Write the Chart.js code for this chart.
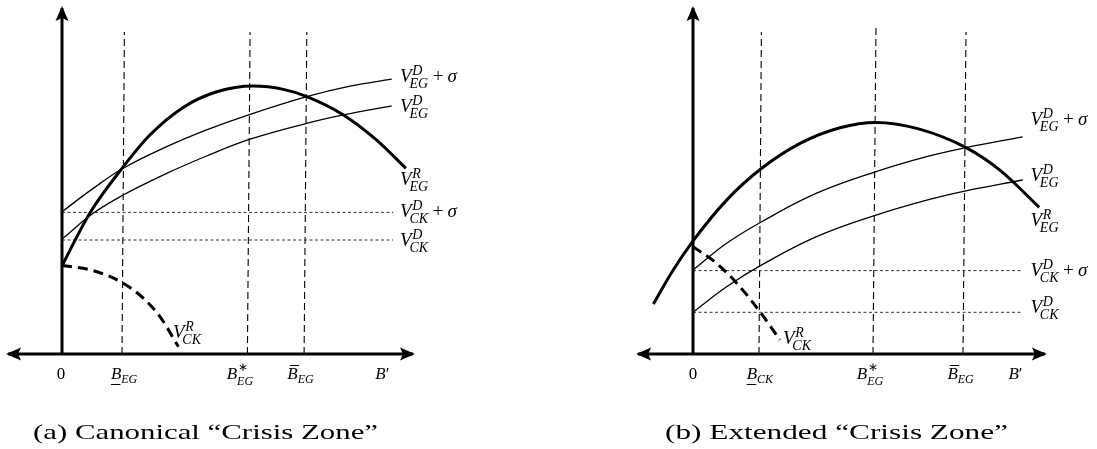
<!DOCTYPE html>
<html>
<head>
<meta charset="utf-8">
<title>Crisis Zone</title>
<script src="https://cdn.jsdelivr.net/npm/chart.js@4.4.1/dist/chart.umd.min.js"></script>
<style>
  html, body { margin: 0; padding: 0; background: #fff; }
  body { position: relative; width: 1097px; height: 449px; overflow: hidden; }
  canvas { position: absolute; top: 0; }
  .caption { position: absolute; top: 422px; font-family: "Liberation Serif", "Times New Roman", serif; font-size: 21px; line-height: 21px; white-space: nowrap; transform-origin: 0 0; color: #000; }
</style>
</head>
<body>
<canvas id="chartA" width="548" height="449" style="left:0"></canvas>
<canvas id="chartB" width="549" height="449" style="left:548px"></canvas>
<div class="caption" id="capA">(a) Canonical “Crisis Zone”</div>
<div class="caption" id="capB">(b) Extended “Crisis Zone”</div>
<script>
//Panel (a): canonical crisis zone, values as [B', V]
var aEgR = [[0, 2.94], [0.93, 4.7], [2.04, 6.24], [2.93, 7.3], [4.04, 8.22], [5.16, 8.74], [6.38, 8.93], [7.38, 8.82], [8.16, 8.58], [9.38, 7.97], [10.49, 7.13], [11.46, 6.19]];
var aEgDSigma = [[0, 4.74], [1.04, 5.52], [2.04, 6.19], [3.49, 6.91], [4.82, 7.47], [6.27, 7.99], [8.16, 8.58], [9.6, 8.93], [10.99, 9.16]];
var aEgD = [[0, 3.83], [1.04, 4.69], [2.04, 5.3], [3.49, 6.02], [4.82, 6.6], [6.27, 7.16], [8.16, 7.69], [9.38, 7.97], [10.99, 8.27]];
var aCkR = [[0, 2.95], [1.04, 2.78], [2.04, 2.36], [2.71, 1.86], [3.27, 1.24], [3.88, 0.24]];
var aCkLevels = [4.72, 3.8];          // V_CK^D + sigma, V_CK^D
var aLevelEnd = 11.04;
var aBounds = [[2.0, 2.08], [6.18, 6.27], [8.07, 8.16]];   // B at axis, B at top of the dashed line
var aBoundTop = [10.73, 10.73, 10.73];
var aAxisX = [-1.8, 11.7];
var aAxisTop = 11.53;

//Panel (b): extended crisis zone
var bEgR = [[-1.32, 1.67], [-0.66, 2.8], [0.01, 3.78], [1.12, 5.13], [2.29, 6.19], [3.57, 7.02], [4.9, 7.54], [6.1, 7.72], [7.46, 7.52], [9.1, 6.88], [10.23, 6.13], [11.54, 4.89]];
var bEgDSigma = [[0, 2.8], [1.12, 3.69], [2.29, 4.41], [4.12, 5.36], [6.1, 6.08], [7.79, 6.58], [9.1, 6.88], [10.99, 7.24]];
var bEgD = [[0, 1.39], [1.12, 2.24], [2.29, 2.97], [4.12, 3.91], [6.1, 4.63], [7.79, 5.13], [9.1, 5.44], [10.99, 5.8]];
var bCkR = [[0, 3.58], [0.79, 3.02], [1.46, 2.36], [2.23, 1.41], [2.9, 0.47]];
var bCkLevels = [2.78, 1.39];
var bLevelEnd = 10.99;
var bBounds = [[2.2, 2.28], [6.0, 6.1], [9.0, 9.1]];
var bBoundTop = [10.73, 10.97, 10.73];
var bAxisX = [-1.83, 11.73];
var bAxisTop = 11.53;

//Text on the curves and on the B' axis
var curveLabels = [
    { base: 'V', sup: 'D', sub: 'EG', plusSigma: true },
    { base: 'V', sup: 'D', sub: 'EG' },
    { base: 'V', sup: 'R', sub: 'EG' },
    { base: 'V', sup: 'D', sub: 'CK', plusSigma: true },
    { base: 'V', sup: 'D', sub: 'CK' },
    { base: 'V', sup: 'R', sub: 'CK' }
];
var aCurveLabelAt = [[11.27, 9.07], [11.27, 8.07], [11.27, 5.63], [11.27, 4.57], [11.27, 3.6], [3.7, 0.53]];
var bCurveLabelAt = [[11.25, 7.63], [11.25, 5.77], [11.25, 4.27], [11.25, 2.6], [11.25, 1.37], [3.0, 0.33]];

var aTickLabels = [
    { base: '0', roman: true },
    { base: 'B', under: true, sub: 'EG' },
    { base: 'B', sup: '∗', sub: 'EG' },
    { base: 'B', over: true, sub: 'EG' },
    { base: 'B', prime: true }
];
var bTickLabels = [
    { base: '0', roman: true },
    { base: 'B', under: true, sub: 'CK' },
    { base: 'B', sup: '∗', sub: 'EG' },
    { base: 'B', over: true, sub: 'EG' },
    { base: 'B', prime: true }
];
var aTickPos = [-0.03, 2.07, 5.93, 7.95, 10.68];
var bTickPos = [0, 2.23, 5.9, 8.92, 10.75];
var tickBaseline = -0.83;

var SERIF = '"Liberation Serif", "Times New Roman", serif';

//Line styles
var AXIS = { borderWidth: 3 };
var THICK = { borderWidth: 3, cubicInterpolationMode: 'monotone' };
var THIN = { borderWidth: 1.3, tension: 0.4 };
var THICK_DASH = { borderWidth: 3, borderDash: [10, 6], cubicInterpolationMode: 'monotone' };
var VDASH = { borderWidth: 1.1, borderDash: [7, 4] };
var HDASH = { borderWidth: 1, borderDash: [3, 2.5], borderColor: '#333' };

function line(points, style, extra) {
    return Object.assign({
        data: points.map(function (p) { return { x: p[0], y: p[1] }; }),
        showLine: true,
        pointRadius: 0,
        borderColor: '#000',
        borderCapStyle: 'butt',
        fill: false
    }, style, extra || {});
}

//Build the datasets of one panel (first one is drawn on top)
function panelDatasets(p) {
    var sets = [];
    sets.push(line([[0, 0], [0, p.axisTop]], AXIS, { arrows: ['end'] }));
    sets.push(line([[p.axisX[0], 0], [p.axisX[1], 0]], AXIS, { arrows: ['start', 'end'] }));
    sets.push(line(p.egR, THICK));
    sets.push(line(p.ckR, THICK_DASH));
    sets.push(line(p.egDSigma, THIN));
    sets.push(line(p.egD, THIN));
    p.levels.forEach(function (v) {
        sets.push(line([[0, v], [p.levelEnd, v]], HDASH));
    });
    p.bounds.forEach(function (b, i) {
        sets.push(line([[b[0], 0], [b[1], p.boundTop[i]]], VDASH));
    });
    return sets;
}

function drawHead(ctx, from, to) {
    var a = Math.atan2(to.y - from.y, to.x - from.x);
    ctx.save();
    ctx.translate(to.x, to.y);
    ctx.rotate(a);
    ctx.beginPath();
    ctx.moveTo(2, 0);
    ctx.lineTo(-13, -6.5);
    ctx.lineTo(-10, 0);
    ctx.lineTo(-13, 6.5);
    ctx.closePath();
    ctx.fillStyle = '#000';
    ctx.fill();
    ctx.restore();
}

var arrowHeads = {
    id: 'arrowHeads',
    afterDatasetsDraw: function (chart) {
        chart.data.datasets.forEach(function (ds, i) {
            if (!ds.arrows) return;
            var pts = chart.getDatasetMeta(i).data;
            if (ds.arrows.indexOf('end') >= 0) drawHead(chart.ctx, pts[pts.length - 2], pts[pts.length - 1]);
            if (ds.arrows.indexOf('start') >= 0) drawHead(chart.ctx, pts[1], pts[0]);
        });
    }
};

//Lay out a small piece of math: base letter with scripts and decorations
function mathLayout(ctx, m, F) {
    var S = Math.round(F * 0.72);
    var it = 'italic ' + F + 'px ' + SERIF, rm = F + 'px ' + SERIF;
    var sIt = 'italic ' + S + 'px ' + SERIF, sRm = S + 'px ' + SERIF;
    var parts = [], rules = [];
    var baseFont = m.roman ? rm : it;
    ctx.font = baseFont;
    var wb = ctx.measureText(m.base).width;
    parts.push({ text: m.base, font: baseFont, x: 0, dy: 0 });
    var end = wb;
    if (m.prime) {
        ctx.font = rm;
        parts.push({ text: '′', font: rm, x: wb, dy: 0 });
        end = wb + ctx.measureText('′').width;
    }
    var italicV = m.base === 'V';
    if (m.sup) {
        var supFont = m.sup === '∗' ? sRm : sIt;
        ctx.font = supFont;
        var sx = wb + 0.03 * F;
        parts.push({ text: m.sup, font: supFont, x: sx, dy: (m.sup === '∗' ? -0.45 : -0.36) * F });
        end = Math.max(end, sx + ctx.measureText(m.sup).width);
    }
    if (m.sub) {
        ctx.font = sIt;
        var bx = italicV ? wb - 0.12 * F : wb;
        parts.push({ text: m.sub, font: sIt, x: bx, dy: (m.sup ? 0.33 : 0.22) * F });
        end = Math.max(end, bx + ctx.measureText(m.sub).width);
    }
    if (m.under) rules.push({ x0: 0, x1: wb - 0.05 * F, dy: 0.3 * F });
    if (m.over) rules.push({ x0: 0.15 * F, x1: wb + 0.08 * F, dy: -0.82 * F });
    if (m.plusSigma) {
        ctx.font = rm;
        var px = end + 0.24 * F;
        parts.push({ text: '+', font: rm, x: px, dy: 0 });
        px += ctx.measureText('+').width + 0.22 * F;
        parts.push({ text: 'σ', font: it, x: px, dy: 0 });
        ctx.font = it;
        end = px + ctx.measureText('σ').width;
    }
    return { parts: parts, rules: rules, width: end };
}

function drawMath(ctx, m, x, y, F, align) {
    var lay = mathLayout(ctx, m, F);
    var x0 = align === 'center' ? x - lay.width / 2 : x;
    ctx.save();
    ctx.fillStyle = '#000';
    ctx.strokeStyle = '#000';
    ctx.textAlign = 'left';
    ctx.textBaseline = 'alphabetic';
    lay.parts.forEach(function (p) {
        ctx.font = p.font;
        ctx.fillText(p.text, x0 + p.x, y + p.dy);
    });
    ctx.lineWidth = 1;
    lay.rules.forEach(function (r) {
        ctx.beginPath();
        ctx.moveTo(x0 + r.x0, Math.round(y + r.dy) + 0.5);
        ctx.lineTo(x0 + r.x1, Math.round(y + r.dy) + 0.5);
        ctx.stroke();
    });
    ctx.restore();
}

function mathLabels(labelAt, tickLabels, tickPos) {
    return {
        id: 'mathLabels',
        afterDraw: function (chart) {
            var xs = chart.scales.x, ys = chart.scales.y;
            curveLabels.forEach(function (m, i) {
                drawMath(chart.ctx, m, xs.getPixelForValue(labelAt[i][0]), ys.getPixelForValue(labelAt[i][1]), 19, 'left');
            });
            tickLabels.forEach(function (m, i) {
                drawMath(chart.ctx, m, xs.getPixelForValue(tickPos[i]), ys.getPixelForValue(tickBaseline), 17, 'center');
            });
        }
    };
}

//origin = pixel where the two axes cross, unit = pixels per data unit
function makePanel(canvasId, p) {
    var canvas = document.getElementById(canvasId);
    var w = canvas.width, h = canvas.height;
    return new Chart(canvas.getContext('2d'), {
        type: 'scatter',
        data: { datasets: panelDatasets(p) },
        options: {
            responsive: false,
            animation: false,
            events: [],
            layout: { padding: 0, autoPadding: false },
            scales: {
                x: { type: 'linear', display: false, min: -p.originX / p.unit, max: (w - p.originX) / p.unit },
                y: { type: 'linear', display: false, min: -(h - p.originY) / p.unit, max: p.originY / p.unit }
            },
            plugins: { legend: { display: false }, tooltip: { enabled: false } }
        },
        plugins: [arrowHeads, mathLabels(p.labelAt, p.tickLabels, p.tickPos)]
    });
}

makePanel('chartA', {
    originX: 62, originY: 354, unit: 30,
    egR: aEgR, egDSigma: aEgDSigma, egD: aEgD, ckR: aCkR,
    levels: aCkLevels, levelEnd: aLevelEnd, bounds: aBounds, boundTop: aBoundTop,
    axisX: aAxisX, axisTop: aAxisTop,
    labelAt: aCurveLabelAt, tickLabels: aTickLabels, tickPos: aTickPos
});

makePanel('chartB', {
    originX: 145, originY: 354, unit: 30,
    egR: bEgR, egDSigma: bEgDSigma, egD: bEgD, ckR: bCkR,
    levels: bCkLevels, levelEnd: bLevelEnd, bounds: bBounds, boundTop: bBoundTop,
    axisX: bAxisX, axisTop: bAxisTop,
    labelAt: bCurveLabelAt, tickLabels: bTickLabels, tickPos: bTickPos
});

//Stretch the captions to the width they have in the figure
function fitCaption(id, left, right) {
    var el = document.getElementById(id);
    var w = el.getBoundingClientRect().width;
    el.style.left = left + 'px';
    el.style.transform = 'scaleX(' + ((right - left) / w) + ')';
}
fitCaption('capA', 33, 378);
fitCaption('capB', 665, 1008);
</script>
</body>
</html>
